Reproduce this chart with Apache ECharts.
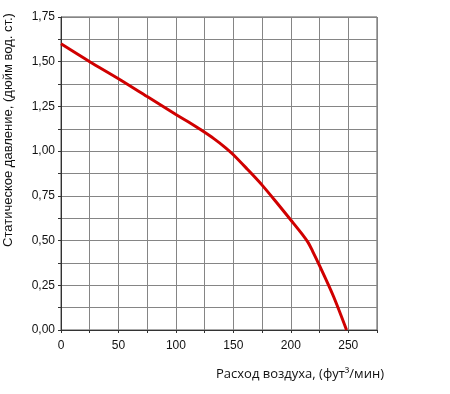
<!DOCTYPE html>
<html><head><meta charset="utf-8">
<script src="https://cdn.jsdelivr.net/npm/echarts@6/dist/echarts.min.js"></script>
<style>html,body{margin:0;padding:0;background:#fff}#c{width:450px;height:394px}</style>
</head><body><div id="c"></div>
<script>
const flow = [0, 25, 50, 75, 100, 111, 121, 133, 143, 150, 162, 175, 188, 200, 210, 215, 219, 225, 237, 248.5];
const pressure = [1.60, 1.50, 1.405, 1.305, 1.205, 1.163, 1.122, 1.07, 1.02, 0.98, 0.90, 0.81, 0.71, 0.615, 0.535, 0.49, 0.44, 0.36, 0.19, 0.0];
const xTitle = 'Расход воздуха, (фут³/мин)';
const yTitle = 'Статическое давление, (дюйм вод. ст.)';

const data = flow.map((x, i) => [x, pressure[i]]);
const chart = echarts.init(document.getElementById('c'));
chart.setOption({
  animation: false,
  grid: {left: 61, top: 17, width: 316, height: 313, show: true, borderColor: '#555', borderWidth: 1},
  xAxis: {
    type: 'value', min: 0, max: 275, interval: 25,
    axisLine: {show: true, onZero: false, lineStyle: {color: '#333', width: 1}},
    axisTick: {show: true, length: 3, lineStyle: {color: '#333'}},
    splitLine: {show: true, lineStyle: {color: '#858585', width: 1}},
    axisLabel: {
      margin: 10, color: '#111', fontFamily: 'Liberation Sans, Arial', fontSize: 12,
      formatter: v => (v % 50 === 0 && v <= 250) ? String(v) : ''
    }
  },
  yAxis: {
    type: 'value', min: 0, max: 1.75, interval: 0.125,
    axisLine: {show: true, lineStyle: {color: '#333', width: 1}},
    axisTick: {show: true, length: 3, lineStyle: {color: '#333'}},
    splitLine: {show: true, lineStyle: {color: '#858585', width: 1}},
    axisLabel: {
      margin: 6, color: '#111', fontFamily: 'Liberation Sans, Arial', fontSize: 12,
      formatter: v => (Math.abs(v * 4 - Math.round(v * 4)) < 1e-6) ? v.toFixed(2).replace('.', ',') : ''
    }
  },
  graphic: [
    {type: 'text', left: 216, top: 368, style: {text: xTitle, font: '13px "Open Sans", sans-serif', fill: '#111'}},
    {type: 'text', x: 2, y: 130, rotation: Math.PI / 2, style: {text: yTitle, font: '13px "Liberation Sans", Arial, sans-serif', fill: '#111', align: 'center', verticalAlign: 'top'}}
  ],
  series: [{
    type: 'line', data: data, showSymbol: false, smooth: 0.3,
    lineStyle: {color: '#d00000', width: 3}
  }]
});
</script></body></html>
